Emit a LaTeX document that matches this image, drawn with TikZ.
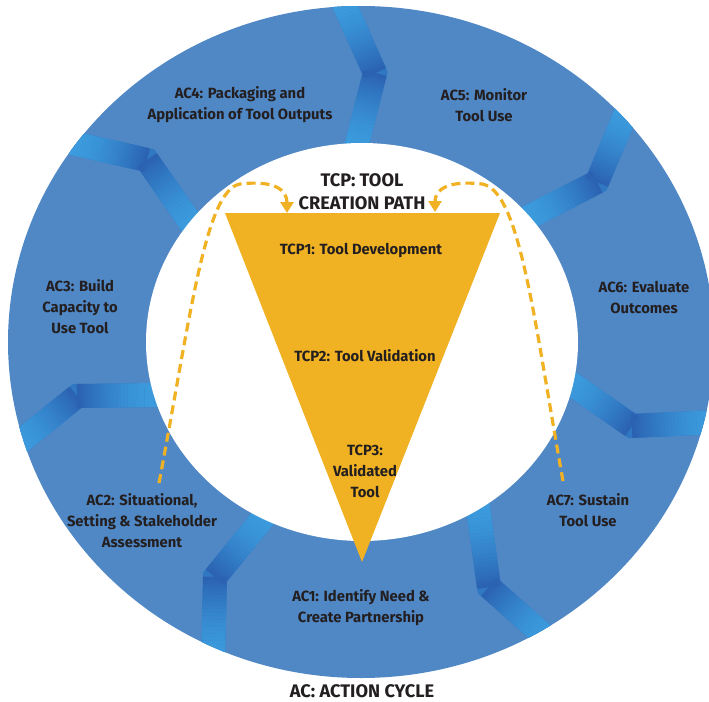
\documentclass[tikz,border=0pt]{standalone}
\usepackage{fontspec}
\setmainfont{Fira Sans}
\usetikzlibrary{arrows.meta,calc}
\definecolor{ringblue}{RGB}{80,135,197}
\definecolor{bandlight}{RGB}{60,156,222}
\definecolor{banddark}{RGB}{42,96,176}
\definecolor{tcporange}{RGB}{240,178,35}
\definecolor{txtcol}{RGB}{35,31,32}
\newcommand{\ringband}[3]{%
  \draw[banddark!60!bandlight, line width=24, line join=miter] #1 -- #2 -- #3;
  \foreach \i in {0,...,23}{%
    \pgfmathsetmacro{\fa}{\i/24}%
    \pgfmathsetmacro{\fb}{(\i+1.05)/24}%
    \pgfmathtruncatemacro{\pc}{100*((\i+0.5)/24)^1.6}%
    \colorlet{bandcol}{banddark!\pc!bandlight}%
    \draw[bandcol, line width=24] ($#1!\fa!#2$) -- ($#1!\fb!#2$);
    \draw[bandcol, line width=24] ($#3!\fa!#2$) -- ($#3!\fb!#2$);
  }}
\tikzset{
  lbl/.style={text=txtcol, font=\bfseries\fontsize{14.8}{21}\selectfont, align=center, inner sep=0},
  ttl/.style={text=txtcol, font=\bfseries\fontsize{18.2}{23}\selectfont, align=center, inner sep=0},
  dasharrow/.style={tcporange, line width=3.2, dash pattern=on 9 off 5, -{Triangle[width=13,length=11]}}
}
\begin{document}
\begin{tikzpicture}[x=1pt,y=-1pt]
\useasboundingbox (0,0) rectangle (709,701);
\clip (0,0) rectangle (709,701);
% ring
\fill[ringblue] (361,342) ellipse [x radius=353, y radius=336];
\begin{scope}
  \clip (361,342) ellipse [x radius=353, y radius=336];
  \ringband{(341,-3)}{(375,73)}{(355,152)}
  \ringband{(628,108)}{(597,182)}{(525,219)}
  \ringband{(718,422)}{(632,426)}{(566,380)}
  \ringband{(549,640)}{(489,587)}{(477,500)}
  \ringband{(268,512)}{(215,577)}{(213,662)}
  \ringband{(158,395)}{(77,396)}{(15,446)}
  \ringband{(72,143)}{(147,160)}{(195,229)}
\end{scope}
\fill[white] (362,342) ellipse [x radius=216, y radius=199];
% triangle
\coordinate (tl) at (225,213);
\coordinate (tr) at (500,213);
\coordinate (tb) at (362,562);
\fill[tcporange] (tl) -- (tr) -- (tb) -- cycle;
% titles
\node[ttl] (tcp) at (362,192) {TCP: TOOL\\CREATION PATH};
\node[ttl] (ac) at (362,691) {AC: ACTION CYCLE};
% dashed arrows
\coordinate (ls) at (159,483);
\coordinate (le) at (287,213);
\coordinate (rs) at (563,481);
\coordinate (re) at (435,212);
\draw[dasharrow] (ls) .. controls (190,320) and (205,190) .. (240,184) .. controls (275,180) and (287,190) .. (le);
\draw[dasharrow] (rs) .. controls (534,320) and (520,190) .. (482,184) .. controls (447,180) and (435,190) .. (re);
% labels
\node[lbl] (tcp1) at (361,251) {TCP1: Tool Development};
\node[lbl] (tcp2) at (365,356) {TCP2: Tool Validation};
\node[lbl] (tcp3) at (365,471) {TCP3:\\Validated\\Tool};
\node[lbl] (ac1) at (361,608) {AC1: Identify Need \&\\Create Partnership};
\node[lbl] (ac2) at (142,521) {AC2: Situational,\\Setting \& Stakeholder\\Assessment};
\node[lbl] (ac3) at (80,307) {AC3: Build\\Capacity to\\Use Tool};
\node[lbl] (ac4) at (240,105) {AC4: Packaging and\\Application of Tool Outputs};
\node[lbl] (ac5) at (484,105) {AC5: Monitor\\Tool Use};
\node[lbl] (ac6) at (644,298) {AC6: Evaluate\\Outcomes};
\node[lbl] (ac7) at (588,510) {AC7: Sustain\\Tool Use};
\end{tikzpicture}
\end{document}
